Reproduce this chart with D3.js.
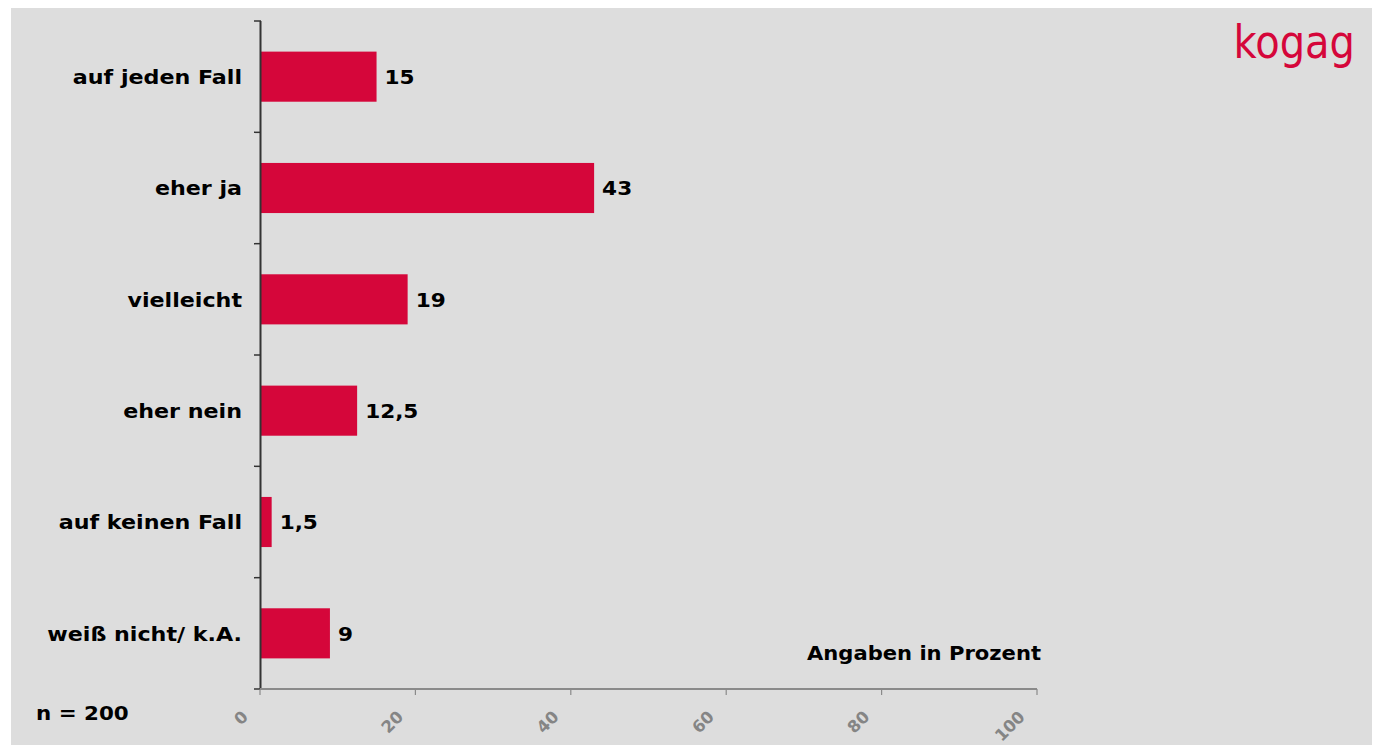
<!DOCTYPE html>
<html><head><meta charset="utf-8">
<script src="https://cdn.jsdelivr.net/npm/d3@7"></script>
<style>
html,body{margin:0;padding:0;background:#fff;}
svg{display:block;}
text{font-family:"DejaVu Sans",Verdana,sans-serif;}
</style></head>
<body>
<svg id="c" width="1377" height="745"></svg>
<script>
const categories = ["auf jeden Fall","eher ja","vielleicht","eher nein","auf keinen Fall","weiß nicht/ k.A."];
const values = [15,43,19,12.5,1.5,9];
const valueLabels = ["15","43","19","12,5","1,5","9"];
const xTicks = [0,20,40,60,80,100];

const svg = d3.select("#c");
svg.append("rect").attr("x",11).attr("y",8).attr("width",1361).attr("height",737).attr("fill","#dddddd");

const x = d3.scaleLinear().domain([0,100]).range([260,1037]);
const y = d3.scaleBand().domain(categories).range([21,689]).padding(0);
const barH = y.bandwidth()*0.45;
const red = "#d5063a";

// bars
svg.selectAll("rect.bar").data(values).enter().append("rect")
  .attr("class","bar")
  .attr("x",x(0))
  .attr("y",(d,i)=>y(categories[i])+y.bandwidth()/2-barH/2)
  .attr("width",d=>x(d)-x(0))
  .attr("height",barH)
  .attr("fill",red);

// value labels
svg.selectAll("text.val").data(values).enter().append("text")
  .attr("transform",(d,i)=>`translate(${x(d)+8},${y(categories[i])+y.bandwidth()/2}) scale(1.08,1)`)
  .attr("dy","0.36em")
  .attr("font-size",20)
  .attr("font-weight","bold")
  .attr("fill","#000")
  .text((d,i)=>valueLabels[i]);

// category labels
svg.selectAll("text.cat").data(categories).enter().append("text")
  .attr("transform",d=>`translate(242,${y(d)+y.bandwidth()/2}) scale(1.11,1)`)
  .attr("dy","0.36em")
  .attr("text-anchor","end")
  .attr("font-size",20)
  .attr("font-weight","bold")
  .attr("fill","#000")
  .text(d=>d);

// y axis
svg.append("line").attr("x1",260.5).attr("x2",260.5).attr("y1",21).attr("y2",690).attr("stroke","#333").attr("stroke-width",2);
const bounds = categories.map(c=>y(c)).concat([y.range()[1]]);
svg.selectAll("line.yt").data(bounds).enter().append("line")
  .attr("x1",254).attr("x2",261).attr("y1",d=>d).attr("y2",d=>d).attr("stroke","#333").attr("stroke-width",1.5);

// x axis
const xg = svg.append("g").attr("transform","translate(0,689)");
xg.append("line").attr("x1",x(0)).attr("x2",x(100)).attr("y1",0).attr("y2",0).attr("stroke","#8a8a8a").attr("stroke-width",2);
xg.selectAll("line.xt").data(xTicks).enter().append("line")
  .attr("x1",d=>x(d)).attr("x2",d=>x(d)).attr("y1",0).attr("y2",6).attr("stroke","#8a8a8a").attr("stroke-width",1.2);
xg.selectAll("text.xl").data(xTicks).enter().append("text")
  .attr("transform",d=>`translate(${x(d)-11},${29}) rotate(-45)`)
  .attr("text-anchor","end")
  .attr("font-size",16.5)
  .attr("font-weight","bold")
  .attr("fill","#858585")
  .text(d=>d);

svg.append("text").attr("transform","translate(1041,660) scale(1.055,1)").attr("text-anchor","end")
  .attr("font-size",20).attr("font-weight","bold").attr("fill","#000").text("Angaben in Prozent");
svg.append("text").attr("transform","translate(36,720) scale(1.07,1)")
  .attr("font-size",20).attr("font-weight","bold").attr("fill","#000").text("n = 200");

svg.append("text").attr("transform","translate(1355,58) scale(0.87,1)").attr("text-anchor","end")
  .attr("font-family","'Open Sans',sans-serif")
  .attr("font-size",46).attr("fill",red).text("kogag");
</script>
</body></html>
